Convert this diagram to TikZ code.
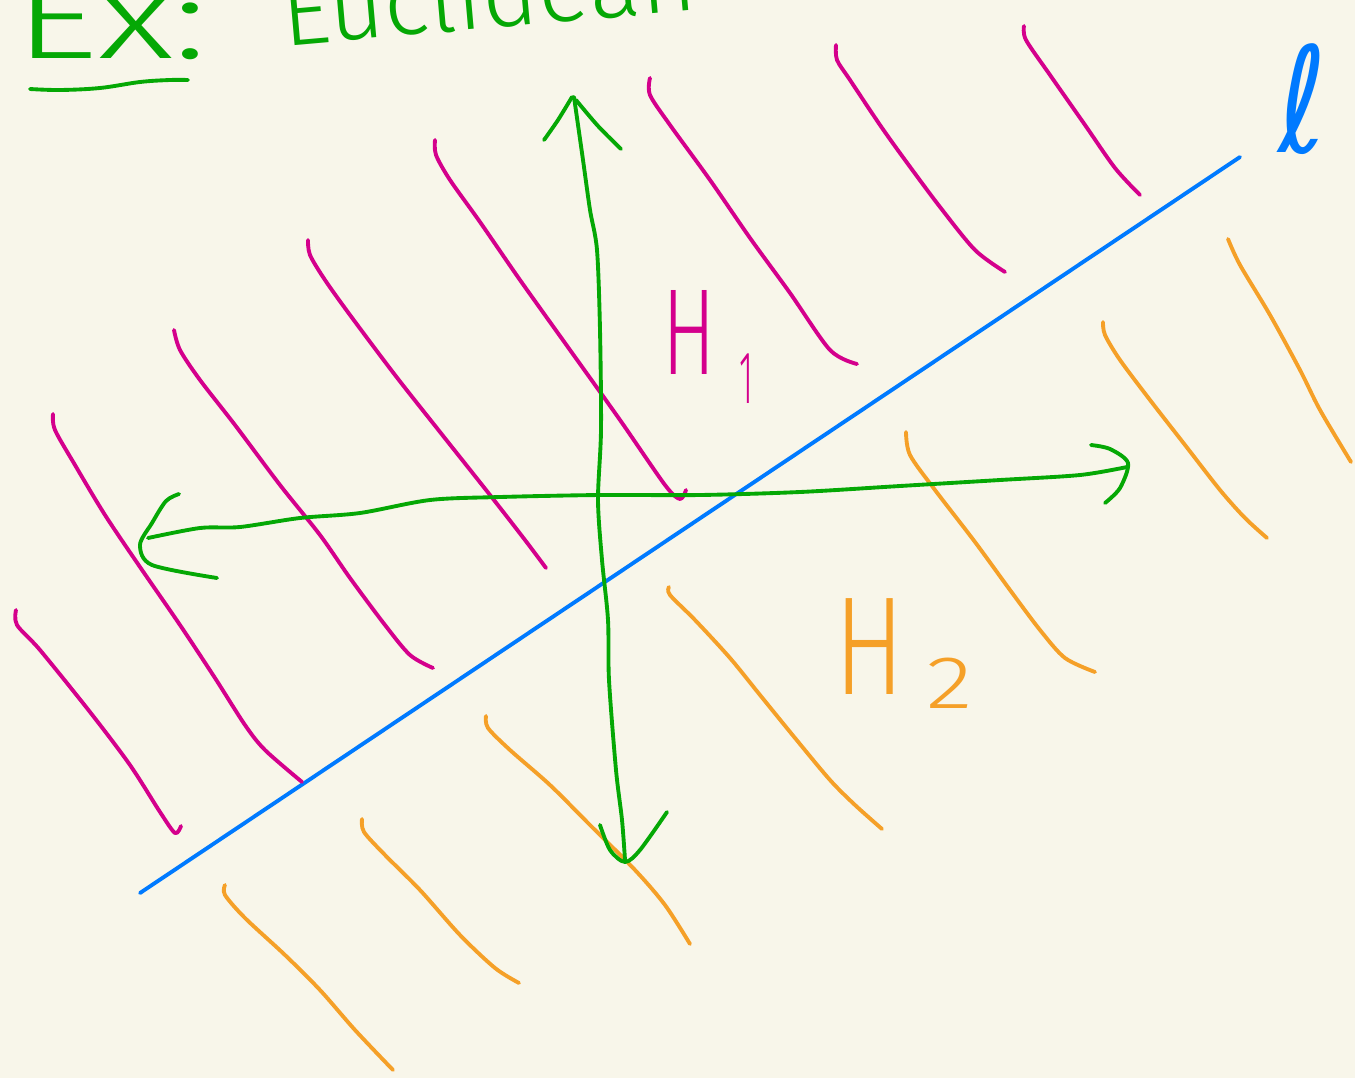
\documentclass[tikz,border=0pt]{standalone}
\usepackage{fontspec}
\setmainfont{Liberation Sans}
\newfontfamily\handfont{Fira Sans}[UprightFont=* Light]
\newfontfamily\ellfont{DejaVu Sans}
\definecolor{bgc}{RGB}{248,246,234}
\definecolor{mag}{RGB}{212,0,140}
\definecolor{grn}{RGB}{5,168,5}
\definecolor{org}{RGB}{245,160,40}
\definecolor{blu}{RGB}{0,122,255}
\tikzset{
  pen/.style={line width=2.9pt, line cap=round, line join=round},
  hatchA/.style={pen, draw=mag},
  hatchB/.style={pen, draw=org},
  axis/.style={pen, draw=grn},
  linel/.style={pen, draw=blu},
  lbl/.style={inner sep=0pt, outer sep=0pt},
}
\begin{document}
\begin{tikzpicture}[x=0.75pt,y=-0.75pt]
\fill[bgc] (0,0) rectangle (1355,1078);
\useasboundingbox (0,0) rectangle (1355,1078);

% title (cut off at top, as in the reference)
\node[lbl, anchor=base west, text=grn, xscale=1.4, font=\handfont\fontsize{88}{88}\selectfont] (ex) at (14,58) {Ex:};
\node[lbl, anchor=base west, text=grn, rotate=5, font=\handfont\fontsize{72}{72}\selectfont] (eu) at (284,46) {Euclidean};
\draw[axis] plot[smooth, tension=0.6] coordinates {(30,89) (60,90) (100,88) (140,82) (170,80) (188,80)};

% line l
\coordinate (l1) at (140,893);
\coordinate (l2) at (1240,157);
\draw[linel] (l1) -- (l2);
\node[lbl, text=blu, xscale=0.8, font=\ellfont\fontsize{110}{110}\selectfont] (ell) at (1303,99) {ℓ};

% magenta hatching (H1)
\draw[hatchA] plot[smooth, tension=0.5] coordinates {(650,78) (650,95) (670,125) (710,180) (750,238) (790,293) (830,350) (857,364)};
\draw[hatchA] plot[smooth, tension=0.5] coordinates {(836,45) (837,60) (850,80) (880,125) (905,160) (940,207) (975,250) (1005,272)};
\draw[hatchA] plot[smooth, tension=0.5] coordinates {(1024,26) (1026,40) (1050,75) (1085,125) (1115,168) (1140,195)};
\draw[hatchA] plot[smooth, tension=0.5] coordinates {(435,140) (436,155) (450,180) (480,222) (520,280) (570,350) (620,420) (665,485) (680,499) (686,490)};
\draw[hatchA] plot[smooth, tension=0.5] coordinates {(308,240) (310,255) (325,280) (350,315) (395,375) (440,432) (490,495) (525,540) (546,568)};
\draw[hatchA] plot[smooth, tension=0.5] coordinates {(174,330) (180,350) (200,380) (235,425) (280,485) (320,535) (350,578) (385,625) (410,655) (433,668)};
\draw[hatchA] plot[smooth, tension=0.5] coordinates {(53,414) (55,430) (75,465) (105,515) (140,567) (180,625) (215,678) (245,725) (265,750) (302,782)};
\draw[hatchA] plot[smooth, tension=0.5] coordinates {(16,610) (17,625) (40,650) (90,712) (130,765) (160,812) (175,833) (181,826)};

% orange hatching (H2)
\draw[hatchB] plot[smooth, tension=0.5] coordinates {(1228,239) (1240,265) (1270,315) (1300,370) (1320,410) (1351,462)};
\draw[hatchB] plot[smooth, tension=0.5] coordinates {(1103,322) (1105,335) (1120,360) (1150,400) (1185,445) (1220,490) (1245,518) (1267,538)};
\draw[hatchB] plot[smooth, tension=0.5] coordinates {(906,432) (910,455) (935,490) (975,542) (1010,590) (1040,630) (1065,658) (1095,672)};
\draw[hatchB] plot[smooth, tension=0.5] coordinates {(669,587) (670,595) (695,620) (730,658) (760,695) (795,738) (830,780) (855,805) (882,829)};
\draw[hatchB] plot[smooth, tension=0.5] coordinates {(486,716) (488,728) (510,750) (550,785) (590,825) (635,870) (665,905) (690,944)};
\draw[hatchB] plot[smooth, tension=0.5] coordinates {(362,819) (364,832) (385,855) (420,890) (460,935) (495,968) (519,983)};
\draw[hatchB] plot[smooth, tension=0.5] coordinates {(225,885) (225,895) (245,918) (285,955) (320,990) (355,1030) (393,1070)};

% labels H1, H2
\node[lbl, text=mag, xscale=0.65, font=\handfont\fontsize{92}{92}\selectfont] (h1) at (689,332) {H};
\node[lbl, text=mag, xscale=0.45, font=\handfont\fontsize{56}{56}\selectfont] (h1s) at (746,379) {1};
\node[lbl, text=org, xscale=0.75, font=\handfont\fontsize{105}{105}\selectfont] (h2) at (870,647) {H};
\node[lbl, text=org, xscale=1.3, font=\handfont\fontsize{56}{56}\selectfont] (h2s) at (950,683) {2};

% green vertical double arrow
\coordinate (vt) at (574,97);
\coordinate (vb) at (625,860);
\draw[axis] plot[smooth, tension=0.5] coordinates {(vt) (583,160) (590,210) (597,250) (600,330) (601,430) (598,500) (602,560) (608,620) (609,680) (616,770) (622,820) (vb)};
\draw[axis] plot[smooth, tension=0.5] coordinates {(544,140) (558,120) (572,97)};
\draw[axis] plot[smooth, tension=0.5] coordinates {(576,100) (598,126) (621,149)};
\draw[axis] plot[smooth, tension=0.5] coordinates {(600,825) (610,850) (625,862) (640,850) (667,812)};

% green horizontal double arrow
\coordinate (hl) at (148,538);
\coordinate (hr) at (1127,467);
\draw[axis] plot[smooth, tension=0.5] coordinates {(hl) (200,528) (240,527) (300,518) (360,513) (430,500) (500,497) (600,495) (700,495) (800,492) (900,486) (1000,480) (1080,475) (hr)};
\draw[axis] plot[smooth, tension=0.5] coordinates {(179,494) (166,501) (152,523) (140,545) (152,565) (217,578)};
\draw[axis] plot[smooth, tension=0.5] coordinates {(1091,445) (1110,449) (1128,463) (1120,488) (1105,503)};
\end{tikzpicture}
\end{document}
